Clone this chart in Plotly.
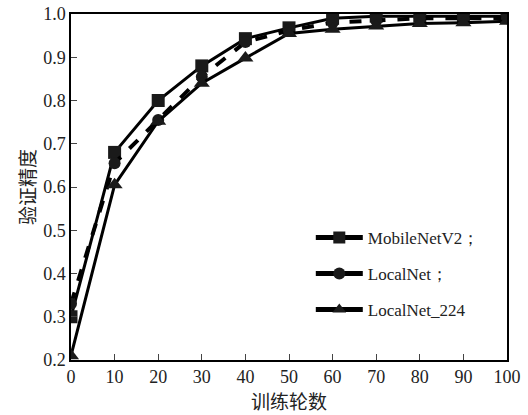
import plotly.graph_objects as go

epochs = [0, 10, 20, 30, 40, 50, 60, 70, 80, 90, 100]
mobilenet = [0.30, 0.68, 0.80, 0.88, 0.943, 0.968, 0.99, 0.995, 0.995, 0.995, 0.995]
localnet = [0.33, 0.655, 0.755, 0.855, 0.935, 0.962, 0.98, 0.985, 0.99, 0.99, 0.99]
localnet224 = [0.21, 0.605, 0.752, 0.84, 0.898, 0.955, 0.965, 0.972, 0.978, 0.98, 0.983]

series_names = ["MobileNetV2；", "LocalNet；", "LocalNet_224"]
x_ticks = [0, 10, 20, 30, 40, 50, 60, 70, 80, 90, 100]
y_ticks = [0.2, 0.3, 0.4, 0.5, 0.6, 0.7, 0.8, 0.9, 1.0]
x_title = "训练轮数"
y_title = "验证精度"

fig = go.Figure()
fig.add_trace(go.Scatter(x=epochs, y=mobilenet, name=series_names[0], mode="lines+markers",
                         showlegend=False,
                         line=dict(color="black", width=3),
                         marker=dict(symbol="square", size=13, color="#1a1a1a")))
fig.add_trace(go.Scatter(x=epochs, y=localnet, name=series_names[1], mode="lines+markers",
                         showlegend=False,
                         line=dict(color="black", width=4, dash="dash"),
                         marker=dict(symbol="circle", size=12, color="#1a1a1a")))
fig.add_trace(go.Scatter(x=epochs, y=localnet224, name=series_names[2], mode="lines+markers",
                         showlegend=False,
                         line=dict(color="black", width=3),
                         marker=dict(symbol="triangle-up", size=14, color="#1a1a1a")))

# legend entries (all drawn solid, as in the reference legend)
for i, (nm, sym) in enumerate(zip(series_names, ["square", "circle", "triangle-up"])):
    fig.add_trace(go.Scatter(x=[None], y=[None], name=nm, mode="lines+markers",
                             legendgroup=f"g{i}",
                             line=dict(color="black", width=3),
                             marker=dict(symbol=sym, size=13, color="#1a1a1a")))

serif = "Liberation Serif"
cjk = "Noto Sans CJK SC"

fig.update_layout(
    width=528, height=415,
    margin=dict(l=71, r=21, t=14, b=55),
    paper_bgcolor="white", plot_bgcolor="white",
    font=dict(family=serif, size=18, color="#222"),
    showlegend=True,
    legend=dict(x=0.55, y=0.249, xanchor="left", yanchor="middle",
                bgcolor="rgba(0,0,0,0)", font=dict(family=serif, size=17), tracegroupgap=11,
                itemsizing="constant", itemwidth=47, traceorder="grouped"),
    annotations=[
        dict(text=y_title, xref="paper", yref="paper", x=-0.103, y=0.5,
             xanchor="center", yanchor="middle", textangle=-90, showarrow=False,
             font=dict(family=cjk, size=19, color="#222")),
        dict(text=x_title, xref="paper", yref="paper", x=0.5, y=-0.116,
             xanchor="center", yanchor="middle", showarrow=False,
             font=dict(family=cjk, size=19, color="#222")),
    ],
)
fig.update_xaxes(range=[0, 100], tickvals=x_ticks, ticks="inside", ticklen=6,
                 tickfont=dict(family=serif, size=18),
                 showline=True, linecolor="black", linewidth=1.5, mirror=True,
                 showgrid=False, zeroline=False, automargin=False)
fig.update_yaxes(range=[0.2, 1.0], tickvals=y_ticks, tickformat=".1f", ticks="inside", ticklen=6,
                 tickfont=dict(family=serif, size=18),
                 showline=True, linecolor="black", linewidth=1.5, mirror=True,
                 showgrid=False, zeroline=False, automargin=False)

fig.write_html("out.html", config={"displayModeBar": False},
               post_script="document.body.style.margin='0';")
